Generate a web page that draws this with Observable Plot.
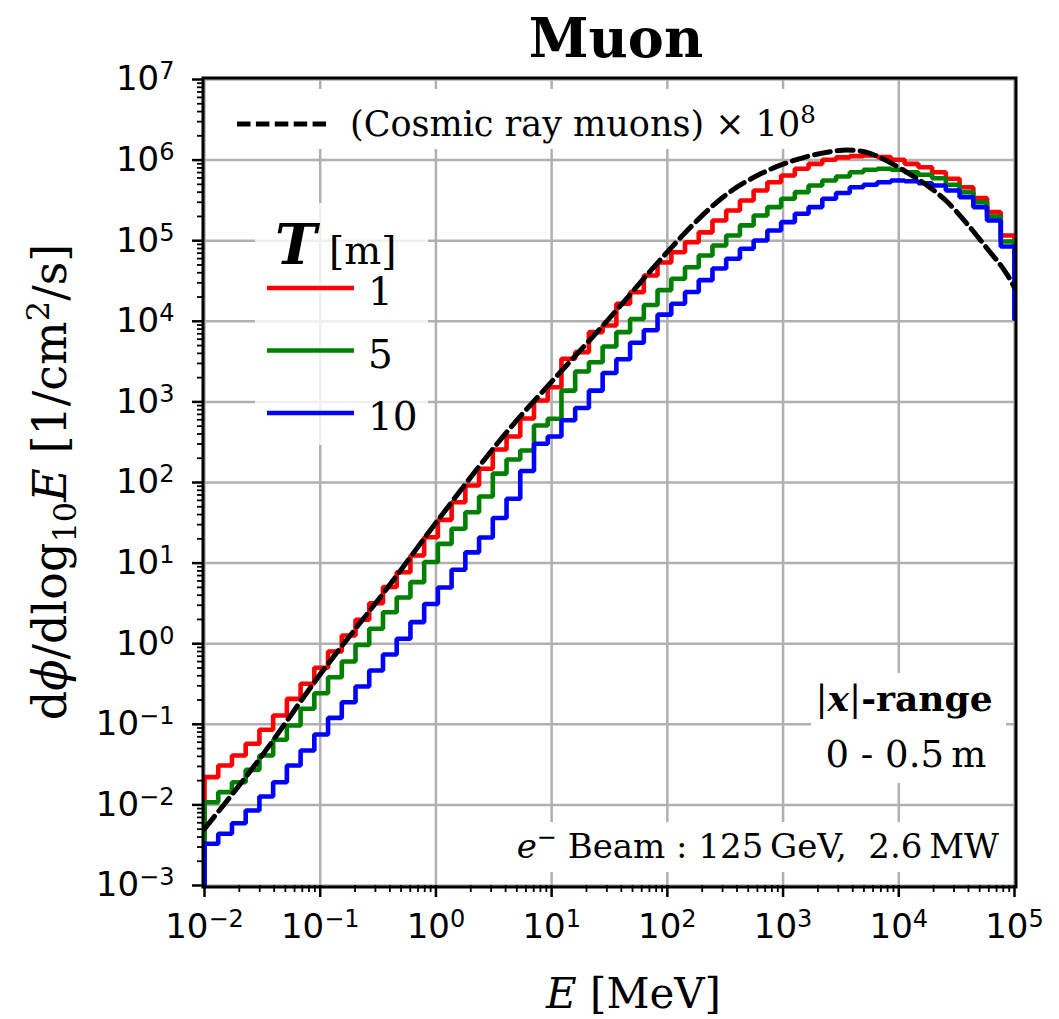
<!DOCTYPE html>
<html><head><meta charset="utf-8">
<script src="https://cdn.jsdelivr.net/npm/d3@7"></script>
<script src="https://cdn.jsdelivr.net/npm/@observablehq/plot@0.6"></script>
<style>html,body{margin:0;padding:0;background:#fff;overflow:hidden} svg{display:block}</style>
</head><body><div id="chart"></div>
<script>
// ---- Histogram binning (log10 E edges) ----
const binLogStart = -2, binLogStop = 5, binCount = 59;

// ---- Series values per bin: dphi/dlog10E [1/cm^2/s] ----
const fluxT1 = [0.0221, 0.0308, 0.0410, 0.0573, 0.0855, 0.1285, 0.207, 0.318, 0.502, 0.800,
  1.265, 1.98, 3.18, 5.05, 7.71, 12.4, 20.9, 34.4, 57.0, 91.8,
  148, 257, 372, 622, 1040, 1520, 3430, 4140, 7330, 8870,
  16500, 23000, 37000, 53700, 71900, 95800, 127000, 178000, 237000, 315000,
  420000, 532000, 644000, 780000, 899000, 1010000, 1080000, 1120000, 1140000, 1090000,
  1010000, 899000, 816000, 708000, 586000, 461000, 337000, 226000, 116000];
const fluxT5 = [0.0108, 0.0144, 0.0191, 0.0272, 0.0410, 0.0643, 0.0966, 0.156, 0.243, 0.384,
  0.601, 0.968, 1.53, 2.46, 3.74, 5.80, 10.3, 17.3, 26.7, 42.8,
  67.0, 129, 193, 249, 510, 617, 1380, 2380, 3110, 4870,
  7330, 10700, 15900, 24400, 33700, 46900, 65500, 87100, 116000, 155000,
  205000, 261000, 331000, 400000, 484000, 558000, 626000, 708000, 758000, 780000,
  758000, 708000, 657000, 596000, 494000, 400000, 301000, 200000, 97700];
const fluxT10 = [0.00329, 0.00438, 0.00593, 0.00853, 0.0127, 0.0191, 0.0308, 0.0473, 0.0746, 0.120,
  0.188, 0.294, 0.465, 0.735, 1.15, 1.85, 3.11, 4.98, 8.26, 13.6,
  20.8, 36.3, 62.8, 139, 302, 372, 593, 840, 1380, 2280,
  3380, 5420, 7760, 12100, 16500, 23100, 32400, 45200, 59600, 79400,
  100500, 134000, 170000, 216000, 261000, 331000, 391000, 461000, 494000, 532000,
  558000, 547000, 517000, 484000, 420000, 347000, 261000, 178000, 84700];
const histLowClose = 1e-3;     // step closes down at the first edge
const histHighClose = 1.08e4;  // step closes down at the last edge

// ---- Cosmic ray muons (x 1e8) ----
const cosmicE = [0.01, 0.0285, 0.1, 0.405, 1, 4.71, 10, 30.3, 100, 169, 330, 640, 1240, 2410,
  3550, 5130, 7410, 11700, 17800, 26300, 38900, 58200, 87100, 100000];
const cosmicFlux = [0.00505, 0.0339, 0.417, 5.53, 31.6, 535, 1780, 10200, 72400, 162000, 382000,
  676000, 989000, 1253000, 1334000, 1259000, 1023000, 708000, 479000, 302000, 162000, 79400, 37200, 26300];

// ---- Legend / ticks ----
const thicknessLabels = ["1", "5", "10"];
const seriesColors = ["#ff0000", "#008000", "#0000ff"];
const xMajor = [1e-2, 1e-1, 1e0, 1e1, 1e2, 1e3, 1e4, 1e5];
const yMajor = [1e-3, 1e-2, 1e-1, 1e0, 1e1, 1e2, 1e3, 1e4, 1e5, 1e6, 1e7];
const minorMultipliers = [2, 3, 4, 5, 6, 7, 8, 9];

const edges = d3.range(binCount + 1).map(i => 10 ** (binLogStart + (binLogStop - binLogStart) * i / binCount));
function stepPoints(vals, name) {
  const pts = [{E: edges[0], v: histLowClose, s: name}];
  vals.forEach((v, i) => pts.push({E: edges[i], v, s: name}));
  pts.push({E: edges[binCount], v: vals[vals.length - 1], s: name});
  pts.push({E: edges[binCount], v: histHighClose, s: name});
  return pts;
}
const seriesData = [fluxT1, fluxT5, fluxT10].map((vals, i) => stepPoints(vals, thicknessLabels[i]));
const cosmic = cosmicE.map((E, i) => ({E, v: cosmicFlux[i]}));
const minorOf = majors => majors.slice(0, -1).flatMap(d => minorMultipliers.map(m => m * d));
const xMinor = minorOf(xMajor), yMinor = minorOf(yMajor);
const expFmt = d => "10^" + Math.round(Math.log10(d));

const chart = Plot.plot({
  width: 1059, height: 1019,
  marginLeft: 204, marginRight: 45, marginTop: 79, marginBottom: 134,
  style: {fontFamily: "DejaVu Sans", fontSize: "34px", background: "white", color: "black"},
  x: {type: "log", domain: [1e-2, 1e5]},
  y: {type: "log", domain: [1e-3, 1e7]},
  marks: [
    Plot.gridX(xMajor, {stroke: "#b0b0b0", strokeOpacity: 1, strokeWidth: 2.5}),
    Plot.gridY(yMajor, {stroke: "#b0b0b0", strokeOpacity: 1, strokeWidth: 2.5}),
    ...seriesData.map((d, i) => Plot.line(d, {x: "E", y: "v", curve: "step-after", stroke: seriesColors[i], strokeWidth: 4.6, strokeLinejoin: "miter"})),
    Plot.line(cosmic, {x: "E", y: "v", curve: "monotone-x", stroke: "black", strokeWidth: 5, strokeDasharray: "16,7"}),
    Plot.axisX(xMinor, {tickSize: 7, strokeWidth: 1.8, tickFormat: () => "", label: null}),
    Plot.axisY(yMinor, {tickSize: 7, strokeWidth: 1.8, tickFormat: () => "", label: null}),
    Plot.axisX(xMajor, {tickSize: 12, tickPadding: 16, strokeWidth: 2.5, tickFormat: expFmt, fontSize: 34, label: null}),
    Plot.axisY(yMajor, {tickSize: 12, tickPadding: 18, strokeWidth: 2.5, tickFormat: expFmt, fontSize: 34, label: null}),
    Plot.frame({stroke: "black", strokeWidth: 3, inset: -1.5})
  ]
});
document.getElementById("chart").appendChild(chart);

// Tick labels as 10 with superscript exponent
const NS = "http://www.w3.org/2000/svg";
chart.querySelectorAll("text").forEach(t => {
  const m = /^10\^(-?\d+)$/.exec(t.textContent);
  if (!m) return;
  t.textContent = "";
  const a = document.createElementNS(NS, "tspan"); a.textContent = "10"; t.appendChild(a);
  const b = document.createElementNS(NS, "tspan"); b.textContent = m[1].replace("-", "\u2212");
  b.setAttribute("font-size", "24"); b.setAttribute("dy", "-11"); t.appendChild(b);
});

// Annotations
const svg = d3.select(chart);
function rich(o, segs) {
  const t = svg.append("text").attr("x", o.x).attr("y", o.y)
    .attr("text-anchor", o.anchor || "start")
    .attr("font-family", o.family || "DejaVu Serif")
    .attr("font-size", o.size).attr("fill", "black").style("white-space", "pre");
  if (o.weight) t.attr("font-weight", o.weight);
  if (o.rotate) t.attr("transform", `rotate(${o.rotate},${o.x},${o.y})`);
  let off = 0;
  for (const s of segs) {
    const target = s.sup ? -0.38 * o.size : s.sub ? 0.22 * o.size : 0;
    const ts = t.append("tspan").text(s.t);
    if (target !== off) { ts.attr("dy", target - off); off = target; }
    if (s.sup || s.sub) ts.attr("font-size", o.size * 0.7);
    if (s.size) ts.attr("font-size", s.size);
    if (s.italic) ts.attr("font-style", "italic");
    if (s.bold) ts.attr("font-weight", "bold");
  }
  return t;
}
function box(x, y, w, h, op) {
  svg.append("rect").attr("x", x).attr("y", y).attr("width", w).attr("height", h)
    .attr("fill", "white").attr("fill-opacity", op);
}

// Title
rich({x: 616, y: 57, size: 54, anchor: "middle", weight: "bold"}, [{t: "Muon"}]);

// Cosmic legend
box(212, 89, 610, 60, 1);
svg.append("line").attr("x1", 237).attr("x2", 326).attr("y1", 124).attr("y2", 124)
  .attr("stroke", "black").attr("stroke-width", 5).attr("stroke-dasharray", "13.5,5.4");
rich({x: 350, y: 136, size: 35}, [{t: "(Cosmic ray muons) \u00d7 10"}, {t: "8", sup: true}]);

// Thickness legend
box(255, 203, 173, 242, 0.8);
rich({x: 275, y: 264, size: 56}, [{t: "T", bold: true, italic: true}, {t: " [m]", size: 39}]);
thicknessLabels.forEach((lab, i) => {
  const yy = 288 + i * 62.5;
  svg.append("line").attr("x1", 267).attr("x2", 354).attr("y1", yy).attr("y2", yy)
    .attr("stroke", seriesColors[i]).attr("stroke-width", 4.6);
  rich({x: 368, y: yy + 17, size: 39}, [{t: lab}]);
});

// |x|-range annotation
box(811, 673, 195, 110, 1);
rich({x: 904, y: 711, size: 36, anchor: "middle"}, [{t: "|"}, {t: "x", bold: true, italic: true}, {t: "|"}, {t: "-range", bold: true}]);
rich({x: 906, y: 767, size: 37, anchor: "middle"}, [{t: "0 - 0.5\u2009m"}]);

// Beam annotation
box(500, 822, 506, 50, 1);
rich({x: 999, y: 858, size: 34, anchor: "end"}, [{t: "e", italic: true}, {t: "\u2212", sup: true}, {t: " Beam : 125\u2009GeV,  2.6\u2009MW"}]);

// Axis labels
rich({x: 546, y: 1008, size: 42}, [{t: "E", italic: true}, {t: " [MeV]"}]);
rich({x: 66, y: 482, size: 46, anchor: "middle", rotate: -90},
  [{t: "d"}, {t: "\u03d5", italic: true}, {t: "/dlog"}, {t: "10", sub: true}, {t: "E", italic: true}, {t: " [1/cm"}, {t: "2", sup: true}, {t: "/s]"}]);
</script>
</body></html>
